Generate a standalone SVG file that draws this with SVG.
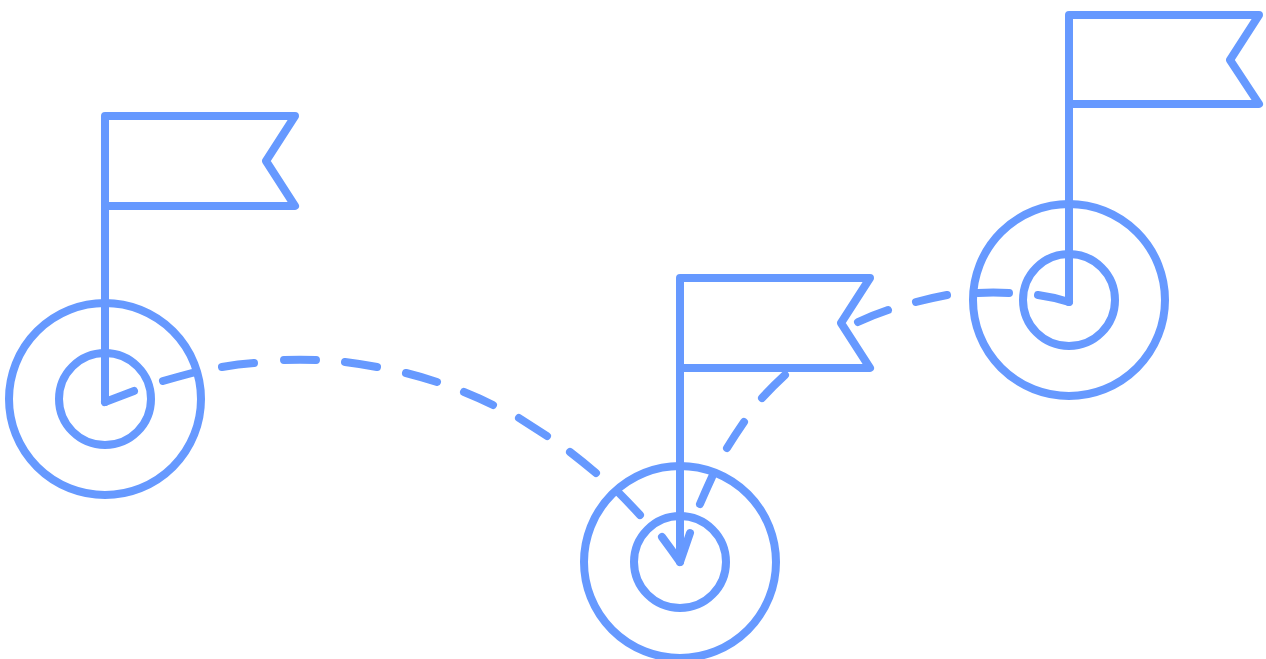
<svg xmlns="http://www.w3.org/2000/svg" width="1266" height="659" viewBox="0 0 1266 659">
<style>
.s{fill:none;stroke:#6699ff;stroke-width:8;stroke-linecap:round;stroke-linejoin:round}
</style>
<rect width="1266" height="659" fill="#ffffff"/>
<g id="connectors" class="s">
<path d="M105 402L134 391M163 381Q177 377 192 373M222 367Q238 364 254 363M284 360Q300 359.500 316 360M345 362Q361 364 377 367M406 373Q422 377 437 382M464 392Q479 398 493 405M519 418Q533 427 547 436M570 452Q583 462 596 473M617 491Q629 503 640 515M662 537Q671 549 680 562L690 533"/>
<path d="M1069 302Q1053 297 1038 295M1009 293Q993 292 978 293M947 295Q931 298 916 302M888 310Q873 315 858 322"/>
<path d="M785 375Q773 386 762 398M744 422Q735 435 727 448M712 477Q706 490 700 504"/>
</g>
<g id="node-left" class="s">
<circle cx="105" cy="399" r="96"/>
<circle cx="105" cy="399" r="46"/>
<path d="M105 402V116H295L266 161L295 206H105"/>
</g>
<g id="node-middle" class="s">
<circle cx="680" cy="562" r="96"/>
<circle cx="680" cy="562" r="46"/>
<path d="M680 562V278H870L841 323L870 368H680"/>
</g>
<g id="node-right" class="s">
<circle cx="1069" cy="300" r="96"/>
<circle cx="1069" cy="300" r="46"/>
<path d="M1069 302V15H1259L1230 60L1259 104H1069"/>
</g>
</svg>
